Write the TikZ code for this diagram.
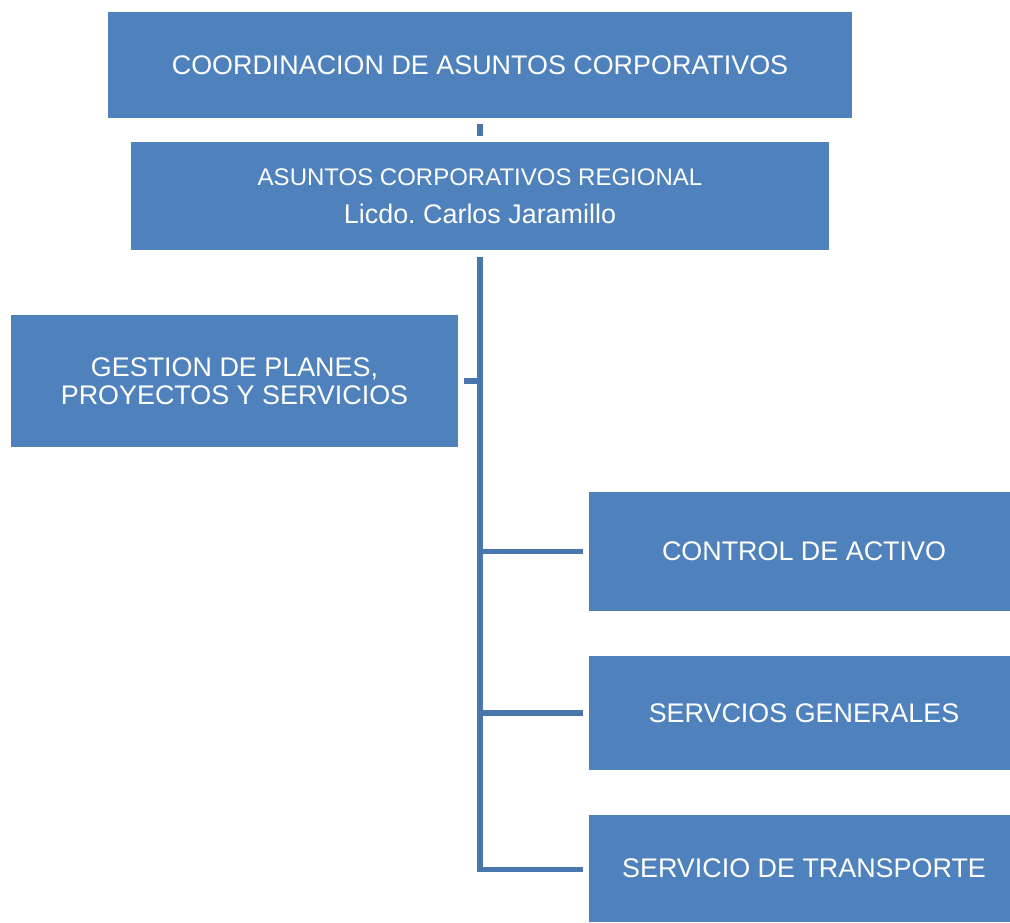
\documentclass[tikz,border=0pt]{standalone}
\usepackage{fontspec}
\setmainfont{Liberation Sans}
\definecolor{boxblue}{HTML}{4F81BD}
\definecolor{lineblue}{HTML}{4A76AE}
\begin{document}
\begin{tikzpicture}[x=1pt,y=-1pt,
  orgbox/.style={fill=boxblue,draw=none,inner sep=0pt,text=white,align=center,
    font=\fontsize{26.9}{28.5}\selectfont},
  conn/.style={draw=lineblue,line width=5.5pt}]
\useasboundingbox (0,0) rectangle (1010,922);
\clip (0,0) rectangle (1010,922);
\node[orgbox,minimum width=744pt,minimum height=106pt] (top) at (480,65) {COORDINACION DE ASUNTOS CORPORATIVOS};
\node[orgbox,minimum width=698pt,minimum height=108pt] (reg) at (480,196)
  {{\fontsize{24}{26}\selectfont ASUNTOS CORPORATIVOS REGIONAL}\\[9pt]Licdo.\ Carlos Jaramillo};
\node[orgbox,minimum width=447pt,minimum height=132pt] (gest) at (234.5,381) {GESTION DE PLANES,\\PROYECTOS Y SERVICIOS};
\node[orgbox,minimum width=430pt,minimum height=119pt] (ctrl) at (804,551.5) {CONTROL DE ACTIVO};
\node[orgbox,minimum width=430pt,minimum height=114pt] (serv) at (804,713) {SERVCIOS GENERALES};
\node[orgbox,minimum width=430pt,minimum height=107pt] (trans) at (804,868.5) {SERVICIO DE TRANSPORTE};
\coordinate (tb) at (480,869.5);
\draw[conn,shorten <=6pt,shorten >=6pt] (top.south) -- (reg.north);
\draw[conn,shorten <=7pt,shorten >=6pt,line join=miter] (reg.south) -- (tb) -- (tb -| trans.west);
\draw[conn,shorten >=6pt] (reg.south |- gest.east) -- (gest.east);
\draw[conn,shorten >=6pt] (reg.south |- ctrl.west) -- (ctrl.west);
\draw[conn,shorten >=6pt] (reg.south |- serv.west) -- (serv.west);
\end{tikzpicture}
\end{document}
